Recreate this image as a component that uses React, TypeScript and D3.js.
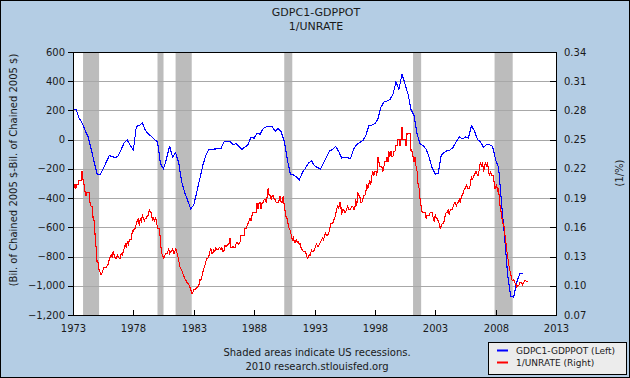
import React from 'react';
import * as d3 from 'd3';

const TITLE_LINES = ['GDPC1-GDPPOT', '1/UNRATE'];
const LEFT_TICKS = [600, 400, 200, 0, -200, -400, -600, -800, -1000, -1200];
const RIGHT_TICKS = [0.34, 0.31, 0.28, 0.25, 0.22, 0.19, 0.16, 0.13, 0.1, 0.07];
const YEAR_TICKS = [1973, 1978, 1983, 1988, 1993, 1998, 2003, 2008, 2013];
const RECESSIONS: [string, string][] = [
  ['1973-11-01', '1975-03-01'],
  ['1980-01-01', '1980-07-01'],
  ['1981-07-01', '1982-11-01'],
  ['1990-07-01', '1991-03-01'],
  ['2001-03-01', '2001-11-01'],
  ['2007-12-01', '2009-06-01'],
];

// GDPC1-GDPPOT, quarterly from 1973Q1 (billions of chained 2005 $)
const GAP_START_YEAR = 1973;
const GAP = [
  200, 210, 150, 115,
  65, 20, -60, -150,
  -235, -240, -200, -155,
  -110, -115, -125, -110,
  -65, -20, -2, -40,
  -72, 90, 98, 115,
  63, 40, 22, 2,
  -15, -165, -200, -130,
  -45, -120, -90, -155,
  -290, -360, -415, -472,
  -450, -360, -270, -177,
  -108, -67, -65, -64,
  -62, -62, -16, -12,
  -12, -35, -28, -45,
  -67, -50, -35, 18,
  10, 45, 37, 76,
  87, 88, 87, 58,
  76, 53, -10, -135,
  -235, -240, -255, -274,
  -225, -195, -160, -145,
  -178, -190, -200, -160,
  -120, -75, -68, -45,
  -80, -125, -120, -125,
  -127, -63, -35, -18,
  -7, 27, 95, 99,
  110, 140, 220, 258,
  265, 275, 310, 395,
  345, 450, 380, 310,
  205, 165, 40, -30,
  -40, -65, -120, -195,
  -235, -232, -105, -87,
  -75, -70, -50, -12,
  18, 5, 18, 10,
  96, 60, 2, -15,
  -53, -34, -35, -46,
  -137, -190, -440, -670,
  -930, -1070, -1078, -975,
  -918, -918,
];

// UNRATE, monthly from 1973-01 (percent); plotted as 1/UNRATE
const UNRATE_START_YEAR = 1973;
const UNRATE = [
  4.9, 5.0, 4.9, 5.0, 4.9, 4.9, 4.8, 4.8, 4.8, 4.6, 4.8, 4.9,
  5.1, 5.2, 5.1, 5.1, 5.1, 5.4, 5.5, 5.5, 5.9, 6.0, 6.6, 7.2,
  8.1, 8.1, 8.6, 8.8, 9.0, 8.8, 8.6, 8.4, 8.4, 8.4, 8.3, 8.2,
  7.9, 7.7, 7.6, 7.7, 7.4, 7.6, 7.8, 7.8, 7.6, 7.7, 7.8, 7.8,
  7.5, 7.6, 7.4, 7.2, 7.0, 7.2, 6.9, 7.0, 6.8, 6.8, 6.8, 6.4,
  6.4, 6.3, 6.3, 6.1, 6.0, 5.9, 6.2, 5.9, 6.0, 5.8, 5.9, 6.0,
  5.9, 5.9, 5.8, 5.8, 5.6, 5.7, 5.7, 6.0, 5.9, 6.0, 5.9, 6.0,
  6.3, 6.3, 6.3, 6.9, 7.5, 7.6, 7.8, 7.7, 7.5, 7.5, 7.5, 7.2,
  7.5, 7.4, 7.4, 7.2, 7.5, 7.5, 7.2, 7.4, 7.6, 7.9, 8.3, 8.5,
  8.6, 8.9, 9.0, 9.3, 9.4, 9.6, 9.8, 9.8, 10.1, 10.4, 10.8, 10.8,
  10.4, 10.4, 10.3, 10.2, 10.1, 10.1, 9.4, 9.5, 9.2, 8.8, 8.5, 8.3,
  8.0, 7.8, 7.8, 7.7, 7.4, 7.2, 7.5, 7.5, 7.3, 7.4, 7.2, 7.3,
  7.3, 7.2, 7.2, 7.3, 7.2, 7.4, 7.4, 7.1, 7.1, 7.1, 7.0, 7.0,
  6.7, 7.2, 7.2, 7.1, 7.2, 7.2, 7.0, 6.9, 7.0, 7.0, 6.9, 6.6,
  6.6, 6.6, 6.6, 6.3, 6.3, 6.2, 6.1, 6.0, 5.9, 6.0, 5.8, 5.7,
  5.7, 5.7, 5.7, 5.4, 5.6, 5.4, 5.4, 5.6, 5.4, 5.4, 5.3, 5.3,
  5.4, 5.2, 5.0, 5.2, 5.2, 5.3, 5.2, 5.2, 5.3, 5.3, 5.4, 5.4,
  5.4, 5.3, 5.2, 5.4, 5.4, 5.2, 5.5, 5.7, 5.9, 5.9, 6.2, 6.3,
  6.4, 6.6, 6.8, 6.7, 6.9, 6.9, 6.8, 6.9, 6.9, 7.0, 7.0, 7.3,
  7.3, 7.4, 7.4, 7.4, 7.6, 7.8, 7.7, 7.6, 7.6, 7.3, 7.4, 7.4,
  7.3, 7.1, 7.0, 7.1, 7.1, 7.0, 6.9, 6.8, 6.7, 6.8, 6.6, 6.5,
  6.6, 6.6, 6.5, 6.4, 6.1, 6.1, 6.1, 6.0, 5.9, 5.8, 5.6, 5.5,
  5.6, 5.4, 5.4, 5.8, 5.6, 5.6, 5.7, 5.7, 5.6, 5.5, 5.6, 5.6,
  5.6, 5.5, 5.5, 5.6, 5.6, 5.3, 5.5, 5.1, 5.2, 5.2, 5.4, 5.4,
  5.3, 5.2, 5.2, 5.1, 4.9, 5.0, 4.9, 4.8, 4.9, 4.7, 4.6, 4.7,
  4.6, 4.6, 4.7, 4.3, 4.4, 4.5, 4.5, 4.5, 4.6, 4.5, 4.4, 4.4,
  4.3, 4.4, 4.2, 4.3, 4.2, 4.3, 4.3, 4.2, 4.2, 4.1, 4.1, 4.0,
  4.0, 4.1, 4.0, 3.8, 4.0, 4.0, 4.0, 4.1, 3.9, 3.9, 3.9, 3.9,
  4.2, 4.2, 4.3, 4.4, 4.3, 4.5, 4.6, 4.9, 5.0, 5.3, 5.5, 5.7,
  5.7, 5.7, 5.7, 5.9, 5.8, 5.8, 5.8, 5.7, 5.7, 5.7, 5.9, 6.0,
  5.8, 5.9, 5.9, 6.0, 6.1, 6.3, 6.2, 6.1, 6.1, 6.0, 5.8, 5.7,
  5.7, 5.6, 5.8, 5.6, 5.6, 5.6, 5.5, 5.4, 5.4, 5.5, 5.4, 5.4,
  5.3, 5.4, 5.2, 5.2, 5.1, 5.0, 5.0, 4.9, 5.0, 5.0, 5.0, 4.9,
  4.7, 4.8, 4.7, 4.7, 4.6, 4.6, 4.7, 4.7, 4.5, 4.4, 4.5, 4.4,
  4.6, 4.5, 4.4, 4.5, 4.4, 4.6, 4.7, 4.6, 4.7, 4.7, 4.7, 5.0,
  5.0, 4.9, 5.1, 5.0, 5.4, 5.6, 5.8, 6.1, 6.1, 6.5, 6.8, 7.3,
  7.7, 8.2, 8.6, 8.9, 9.4, 9.5, 9.4, 9.7, 9.8, 10.1, 10.0, 10.0,
  9.7, 9.7, 9.7, 9.9, 9.7, 9.5, 9.5, 9.6, 9.6,
];

const LEGEND = [
  { label: 'GDPC1-GDPPOT (Left)', color: '#0000ff' },
  { label: '1/UNRATE (Right)', color: '#ff0000' },
];
const NOTE_LINES = ['Shaded areas indicate US recessions.', '2010 research.stlouisfed.org'];
const LEFT_LABEL = '(Bil. of Chained 2005 $-Bil. of Chained 2005 $)';
const RIGHT_LABEL = '(1/%)';

const W = 630;
const H = 378;
const PL = 73;
const PR = 556;
const PT = 52;
const PB = 315;
const FONT = '"DejaVu Sans", Verdana, sans-serif';
const BG = '#b4cde4';
const TXT = '#1a1a1a';

export default function App() {
  const x = d3
    .scaleTime()
    .domain([new Date(1973, 0, 1), new Date(2013, 0, 1)])
    .range([PL, PR]);
  const yL = d3.scaleLinear().domain([-1200, 600]).range([PB, PT]);
  const yR = d3.scaleLinear().domain([0.07, 0.34]).range([PB, PT]);

  const gapPts = GAP.map((v, i) => ({
    d: new Date(GAP_START_YEAR + Math.floor(i / 4), (i % 4) * 3, 1),
    v,
  }));
  const unPts = UNRATE.map((u, i) => ({
    d: new Date(UNRATE_START_YEAR, i, 1),
    v: 1 / u,
  }));

  const gapLine = d3
    .line<{ d: Date; v: number }>()
    .x((p) => x(p.d))
    .y((p) => yL(p.v))(gapPts) as string;
  const unLine = d3
    .line<{ d: Date; v: number }>()
    .x((p) => x(p.d))
    .y((p) => yR(p.v))(unPts) as string;

  const fmtL = d3.format(',');
  const r = (v: number) => Math.round(v) + 0.5;

  return (
    <svg
      width={W}
      height={H}
      style={{ position: 'absolute', left: 0, top: 0, fontFamily: FONT }}
    >
      <rect x={0} y={0} width={W} height={H} fill={BG} />
      <rect x={0.5} y={0.5} width={W - 1} height={H - 1} fill="none" stroke="#000" strokeWidth={1} />

      {TITLE_LINES.map((t, i) => (
        <text key={t} x={316} y={12 + i * 14} textAnchor="middle" dominantBaseline="central" fontSize={11} fill={TXT}>
          {t}
        </text>
      ))}

      <rect x={PL} y={PT} width={PR - PL} height={PB - PT} fill="#fff" />

      {RECESSIONS.map(([a, b]) => {
        const x0 = x(new Date(a));
        const x1 = x(new Date(b));
        return <rect key={a} x={x0} y={PT} width={x1 - x0} height={PB - PT} fill="#bcbcbc" />;
      })}

      {LEFT_TICKS.slice(1, -1).map((v) => (
        <line key={v} x1={PL} x2={PR} y1={r(yL(v))} y2={r(yL(v))} stroke="#a8a8a8" strokeWidth={1} />
      ))}

      <g shapeRendering="crispEdges">
        <path d={gapLine} fill="none" stroke="#0000ff" strokeWidth={1.1} />
        <path d={unLine} fill="none" stroke="#ff0000" strokeWidth={1.1} />
      </g>

      <rect x={PL + 0.5} y={PT + 0.5} width={PR - PL} height={PB - PT} fill="none" stroke="#000" strokeWidth={1} />

      {LEFT_TICKS.map((v) => (
        <g key={v}>
          <line x1={PL - 5} x2={PL} y1={r(yL(v))} y2={r(yL(v))} stroke="#000" />
          <text x={PL - 8} y={yL(v)} textAnchor="end" dominantBaseline="central" fontSize={10} fill={TXT}>
            {fmtL(v)}
          </text>
        </g>
      ))}

      {RIGHT_TICKS.map((v) => (
        <g key={v}>
          <line x1={PR - 6} x2={PR} y1={r(yR(v))} y2={r(yR(v))} stroke="#000" />
          <text x={PR + 8} y={yR(v)} dominantBaseline="central" fontSize={10} fill={TXT}>
            {v.toFixed(2)}
          </text>
        </g>
      ))}

      {YEAR_TICKS.map((yr) => {
        const xx = r(x(new Date(yr, 0, 1)));
        return (
          <g key={yr}>
            <line x1={xx} x2={xx} y1={PB - 5} y2={PB} stroke="#000" />
            <text x={xx} y={PB + 13} textAnchor="middle" dominantBaseline="central" fontSize={10} fill={TXT}>
              {yr}
            </text>
          </g>
        );
      })}

      <text
        transform={`translate(13,170) rotate(-90)`}
        textAnchor="middle"
        dominantBaseline="central"
        fontSize={10}
        fill={TXT}
      >
        {LEFT_LABEL}
      </text>
      <text
        transform={`translate(619,173) rotate(-90)`}
        textAnchor="middle"
        dominantBaseline="central"
        fontSize={10}
        fill={TXT}
      >
        {RIGHT_LABEL}
      </text>

      {NOTE_LINES.map((t, i) => (
        <text key={t} x={317} y={352 + i * 14} textAnchor="middle" dominantBaseline="central" fontSize={10} fill={TXT}>
          {t}
        </text>
      ))}

      <rect x={488.5} y={342.5} width={138} height={32} fill="#ececec" stroke="#000" strokeWidth={1} />
      {LEGEND.map((l, i) => (
        <g key={l.label}>
          <line x1={497} x2={508} y1={350.5 + i * 12} y2={350.5 + i * 12} stroke={l.color} strokeWidth={2} />
          <text x={516} y={350.5 + i * 12} dominantBaseline="central" fontSize={9} fill={TXT}>
            {l.label}
          </text>
        </g>
      ))}
    </svg>
  );
}
